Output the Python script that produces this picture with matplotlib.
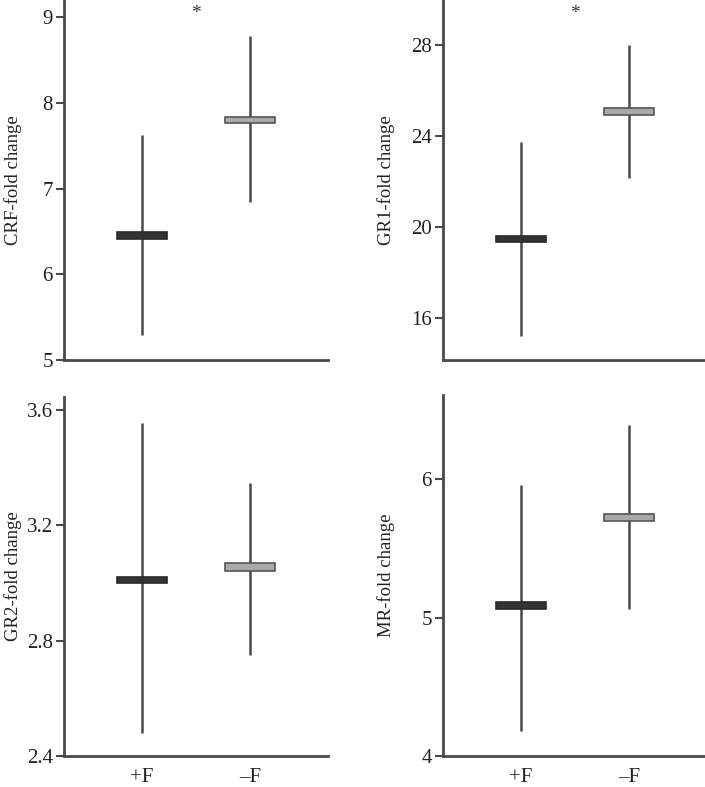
import matplotlib
matplotlib.use("Agg")
import matplotlib.pyplot as plt

plt.rcParams["font.family"] = ["Liberation Serif", "DejaVu Serif"]

groups = ["+F", "\u2013F"]

# per panel: ylabel, box low/high, whisker low/high
labels = ["CRF-fold change", "GR1-fold change", "GR2-fold change", "MR-fold change"]
box_lo = [[6.41, 7.77], [19.34, 24.92], [3.00, 3.043], [5.06, 5.70]]
box_hi = [[6.49, 7.84], [19.60, 25.23], [3.022, 3.068], [5.11, 5.75]]
whisk_lo = [[5.29, 6.84], [15.21, 22.15], [2.48, 2.751], [4.18, 5.06]]
whisk_hi = [[7.63, 8.78], [23.74, 28.04], [3.555, 3.346], [5.96, 6.39]]
yticks = [[5, 6, 7, 8, 9], [16, 20, 24, 28], [2.4, 2.8, 3.2, 3.6], [4, 5, 6]]
ytick_labels = [["5", "6", "7", "8", "9"], ["16", "20", "24", "28"],
                ["2.4", "2.8", "3.2", "3.6"], ["4", "5", "6"]]
ylims = [(5.0, 9.2), (14.15, 30.0), (2.4, 3.645), (4.0, 6.61)]
stars = [True, True, False, False]

W, H = 705, 787
rects = [(64, 0, 360), (443, 0, 360), (64, 397, 756), (443, 395, 756)]
label_x = [22, 395, 22, 395]

fig = plt.figure(figsize=(W / 100, H / 100), dpi=100)
spine_c = "#4a4a4a"
fills = ["#333333", "#a9a9a9"]
edges = ["#2a2a2a", "#555555"]

for i, (x0, top, bot) in enumerate(rects):
    ax = fig.add_axes([x0 / W, (H - bot) / H, 264 / W, (bot - top) / H])
    xs = list(range(len(groups)))
    ax.vlines(xs, whisk_lo[i], whisk_hi[i], color=spine_c, lw=1.8, zorder=2)
    heights = [h - l for l, h in zip(box_lo[i], box_hi[i])]
    ax.bar(xs, heights, bottom=box_lo[i], width=0.46, color=fills,
           edgecolor=edges, linewidth=1.2, zorder=3)
    ax.set_xlim(-0.72, 1.72)
    ax.set_ylim(*ylims[i])
    ax.set_yticks(yticks[i])
    ax.set_yticklabels(ytick_labels[i])
    ax.set_ylabel(labels[i], fontsize=13.5, color="#222222")
    ax.yaxis.set_label_coords((label_x[i] - x0) / 264, 0.5)
    if i >= 2:
        ax.set_xticks(xs)
        ax.set_xticklabels(groups)
        ax.tick_params(axis="x", length=0, pad=8.5)
    else:
        ax.set_xticks([])
    ax.tick_params(axis="y", length=6, width=1.5, color=spine_c, pad=2)
    ax.tick_params(labelsize=15, labelcolor="#222222")
    for s in ["top", "right"]:
        ax.spines[s].set_visible(False)
    for s in ["left", "bottom"]:
        ax.spines[s].set_color(spine_c)
        ax.spines[s].set_linewidth(2)
    if stars[i]:
        ax.text(0.5, 1 - 5 / 360, "*", transform=ax.get_xaxis_transform(),
                ha="center", va="top", fontsize=14, color="#333333")

fig.savefig("out.png", dpi=100)
